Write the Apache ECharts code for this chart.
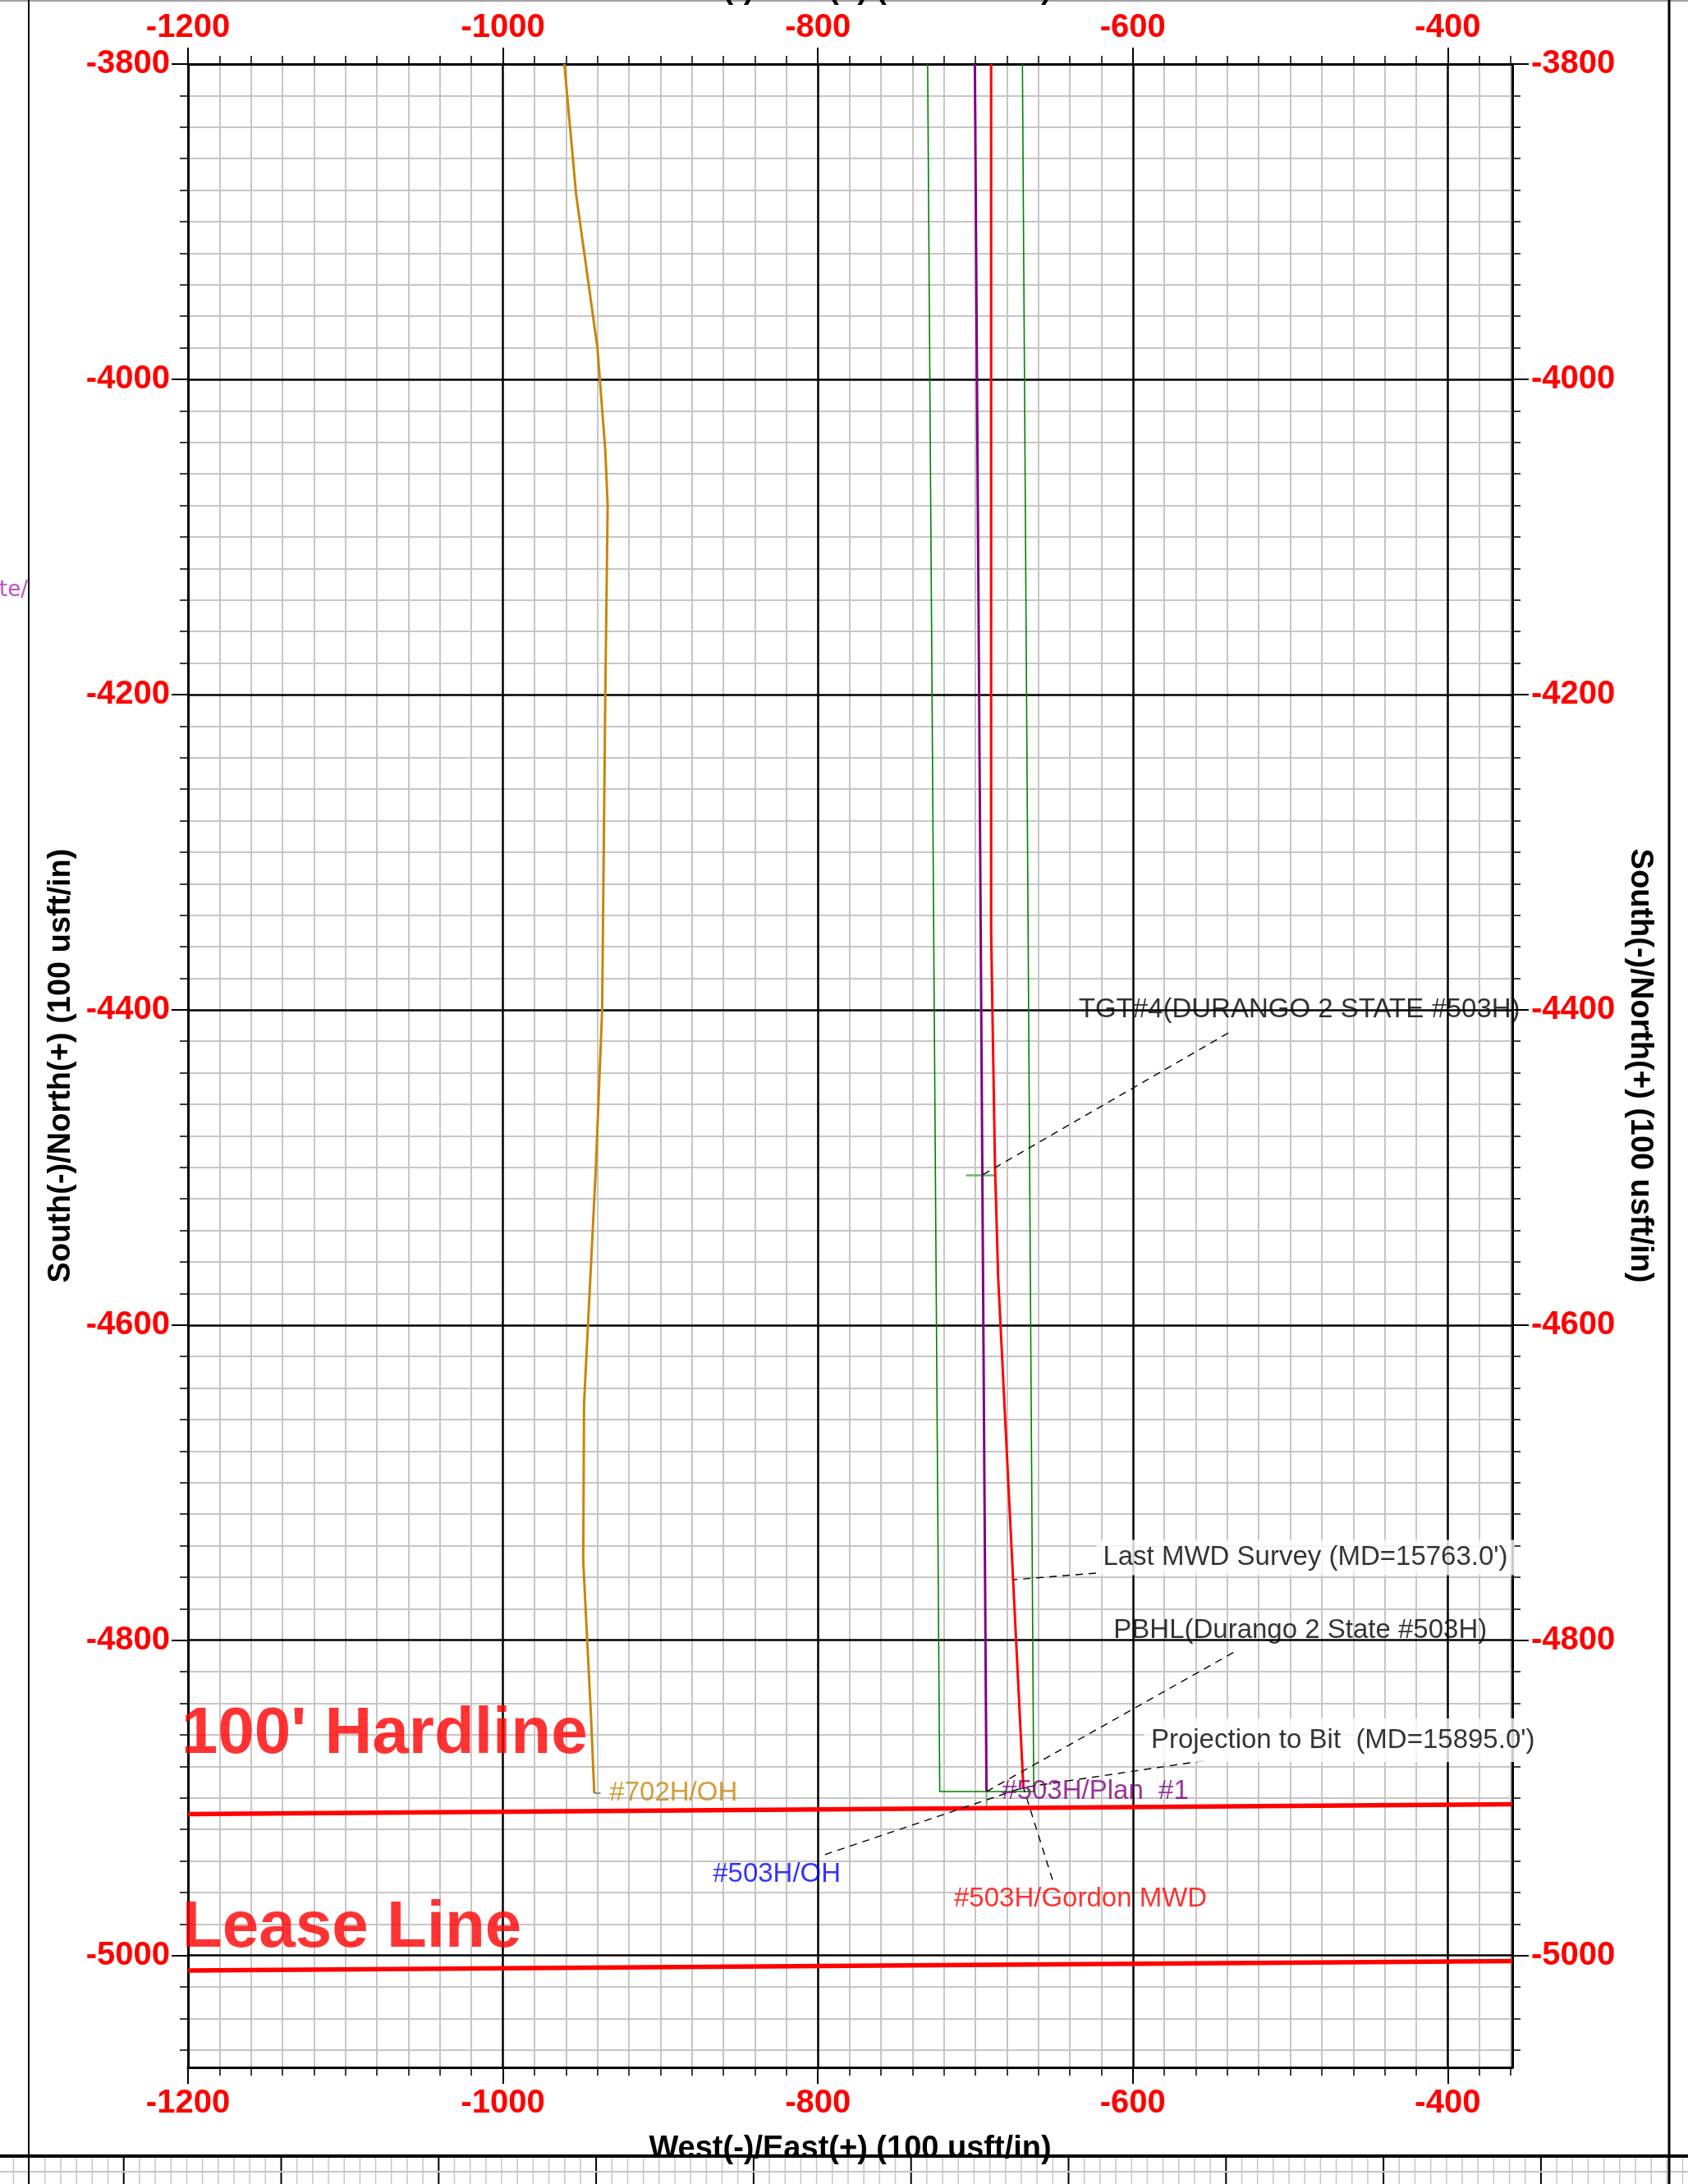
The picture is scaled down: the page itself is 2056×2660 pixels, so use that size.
<!DOCTYPE html>
<html><head><meta charset="utf-8">
<script src="https://cdn.jsdelivr.net/npm/echarts@6/dist/echarts.min.js"></script>
<style>html,body{margin:0;padding:0;background:#fff}#c{width:2056px;height:2660px}</style>
</head><body><div id="c"></div>
<script>
// ---------- data ----------
const xTickLabels = [-1200, -1000, -800, -600, -400];
const yTickLabels = [-5000, -4800, -4600, -4400, -4200, -4000, -3800];
const xRange = [-1200, -359];
const yRange = [-5071, -3800];

const well702H = [[-961,-3800],[-953.5,-3883],[-940,-3980],[-935,-4045],[-933.5,-4080],[-935,-4200],[-937,-4400],[-941,-4500],[-946,-4600],[-948.5,-4650],[-949,-4750],[-946.5,-4800],[-944,-4850],[-942,-4897]];
const well702HEndTick = [[-942,-4897],[-938,-4897]];
const gordonMWD = [[-690,-3800],[-690,-4350],[-687.5,-4500],[-685.5,-4570],[-669.5,-4893.4]];
const plan1 = [[-700.3,-3800],[-692.9,-4896]];
const planTail = [[-692.9,-4896],[-692.9,-4906]];
const hardlineBox = [[-730.3,-3800],[-722.6,-4896],[-662.9,-4896],[-670.1,-3800]];
const tgtMarker = [[-705.9,-4505],[-686.7,-4505]];
const hardline = [[-1200,-4910.3],[-359,-4904]];
const leaseLine = [[-1200,-5009.5],[-359,-5003.5]];

const leaderTGT = [[-539.4,-4414.7],[-695.4,-4504.7]];
const leaderMWD = [[-623.4,-4757.4],[-675.8,-4761.6]];
const leaderPBHL = [[-536.2,-4807.8],[-692.9,-4896]];
const leaderBit = [[-555.3,-4876.5],[-669.5,-4893.4]];
const leaderOH = [[-795.5,-4936],[-669.5,-4893.4]];
const leaderGordon = [[-651,-4952],[-669.5,-4893.4]];

const annotationText = [
  'TGT#4(DURANGO 2 STATE #503H)',
  "Last MWD Survey (MD=15763.0')",
  'PBHL(Durango 2 State #503H)',
  "Projection to Bit  (MD=15895.0')",
  '#503H/Plan  #1',
  '#503H/Gordon MWD',
  '#503H/OH',
  '#702H/OH',
  "100' Hardline",
  'Lease Line'
];
const annotationAt = [
  [-634.7,-4400],[-623.4,-4747.5],[-612.5,-4794],[-593.4,-4863.4],
  [-683.4,-4896],[-713.8,-4964.3],[-867,-4948.7],[-932.6,-4897],
  [-1204.5,-4860],[-1204,-4983]
];

// ---------- styles ----------
const FONT = "'Liberation Sans', Arial, sans-serif";
const annotationStyle = [
  {color:'#000', fontSize:33},
  {color:'#000', fontSize:33, backgroundColor:'#fff', padding:[5,8,5,8]},
  {color:'#000', fontSize:33},
  {color:'#000', fontSize:33, backgroundColor:'#fff', padding:[10,9,10,9]},
  {color:'#800080', fontSize:33},
  {color:'#ff0000', fontSize:33},
  {color:'#0000ff', fontSize:33},
  {color:'#c8860a', fontSize:33},
  {color:'#ff0000', fontSize:80, fontWeight:'bold'},
  {color:'#ff0000', fontSize:80, fontWeight:'bold'}
];

const tickLabel = {color:'#ff0000', fontWeight:'bold', fontSize:40, fontFamily:FONT};
const titleStyle = {color:'#000', fontWeight:'bold', fontSize:38, fontFamily:FONT, verticalAlign:'middle'};

function axisBase(ticks, range, pos, major, margin, name, nameGap, nameRotate) {
  const a = {
    type:'value', position:pos, min:range[0], max:range[1], splitNumber: pos==='left'||pos==='right' ? 6 : 4,
    z: major ? 2 : 1,
    axisLine:{show:true, onZero:false, lineStyle:{color:'#000', width:3}},
    axisTick:{show:true, length:20, customValues:ticks, lineStyle:{color:'#000', width:2}},
    minorTick:{show:true, splitNumber:10, length:10, lineStyle:{color:'#000', width:1.5}},
    splitLine: major ? {show:true, lineStyle:{color:'#000', width:2.5}} : {show:false},
    minorSplitLine: major ? {show:false} : {show:true, lineStyle:{color:'#c6c6c6', width:2}},
    axisLabel: Object.assign({margin:margin, formatter: v => ticks.indexOf(v) >= 0 ? String(v) : ''}, tickLabel),
    name:name, nameLocation:'middle', nameGap:nameGap, nameTextStyle:titleStyle
  };
  if (nameRotate !== undefined) a.nameRotate = nameRotate;
  return a;
}

const xTitle = 'West(-)/East(+) (100 usft/in)';
const yTitle = 'South(-)/North(+) (100 usft/in)';

function lineSeries(data, color, width, dashed, z) {
  return {type:'line', data:data, xAxisIndex:0, yAxisIndex:0, symbol:'none', silent:true,
    z: z || 10, clip:true, animation:false,
    lineStyle:{color:color, width:width, type: dashed ? [9,7] : 'solid'}};
}

const series = [
  lineSeries(hardlineBox, '#008000', 1.6),
  lineSeries(planTail, '#66bb66', 2),
  lineSeries(tgtMarker, '#66bb66', 2.5),
  lineSeries(plan1, '#800080', 3),
  lineSeries(well702H, '#c8860a', 3),
  lineSeries(well702HEndTick, '#888888', 2),
  lineSeries(gordonMWD, '#ff0000', 3),
  lineSeries(hardline, '#ff0000', 5.5, false, 11),
  lineSeries(leaseLine, '#ff0000', 5.5, false, 11),
  lineSeries(leaderTGT, '#000', 1.4, true, 12),
  lineSeries(leaderMWD, '#000', 1.4, true, 12),
  lineSeries(leaderPBHL, '#000', 1.4, true, 12),
  lineSeries(leaderBit, '#000', 1.4, true, 12),
  lineSeries(leaderOH, '#000', 1.4, true, 12),
  lineSeries(leaderGordon, '#000', 1.4, true, 12),
  {
    type:'scatter', xAxisIndex:0, yAxisIndex:0, z:20, clip:false, silent:true, animation:false,
    symbol:'rect', symbolSize:1, itemStyle:{color:'rgba(0,0,0,0)'},
    data: annotationAt.map((p, i) => ({
      value:p,
      label:Object.assign({show:true, position:'right', distance:0, align:'left', verticalAlign:'middle',
        fontFamily:FONT, formatter:annotationText[i]}, annotationStyle[i])
    }))
  }
];

// page frame decorations
const deco = [];
deco.push({type:'line', z:-5, shape:{x1:0,y1:1,x2:2056,y2:1}, style:{stroke:'#a0a0a0', lineWidth:2}});
for (let j = -8; j <= 100; j++) {
  const x = 150.7 + 19.18 * j;
  if (x < 0 || x > 2056) continue;
  const major = (j % 10 === 0);
  deco.push({type:'line', z:-5, shape:{x1:x,y1:2627,x2:x,y2:2660}, style:{stroke: major ? '#000' : '#c6c6c6', lineWidth: major ? 2 : 1.5}});
}
deco.push({type:'line', z:-5, shape:{x1:0,y1:2645,x2:2056,y2:2645}, style:{stroke:'#c6c6c6', lineWidth:2}});
deco.push({type:'line', z:-5, shape:{x1:0,y1:2626,x2:2056,y2:2626}, style:{stroke:'#000', lineWidth:4}});
deco.push({type:'line', z:-5, shape:{x1:35,y1:0,x2:35,y2:2660}, style:{stroke:'#000', lineWidth:2}});
deco.push({type:'line', z:-5, shape:{x1:2033,y1:0,x2:2033,y2:2660}, style:{stroke:'#000', lineWidth:3}});
deco.push({type:'text', z:-5, style:{text:'te/', x:34, y:719, align:'right', verticalAlign:'middle', fill:'#c04cc8', font:"26px 'DejaVu Sans'"}});

const option = {
  animation:false,
  backgroundColor:'#fff',
  grid:{left:229, right:214, top:78, bottom:142, containLabel:false, outerBoundsMode:'none'},
  xAxis:[
    axisBase(xTickLabels, xRange, 'bottom', false, 24, xTitle, 100),
    axisBase(xTickLabels, xRange, 'top', true, 24, xTitle, 90)
  ],
  yAxis:[
    axisBase(yTickLabels, yRange, 'left', false, 22, yTitle, 136, 90),
    axisBase(yTickLabels, yRange, 'right', true, 23, yTitle, 133, -90)
  ],
  graphic:{elements:deco},
  series:series
};

const chart = echarts.init(document.getElementById('c'), null, {renderer:'canvas', width:2056, height:2660});
chart.setOption(option);
</script></body></html>
